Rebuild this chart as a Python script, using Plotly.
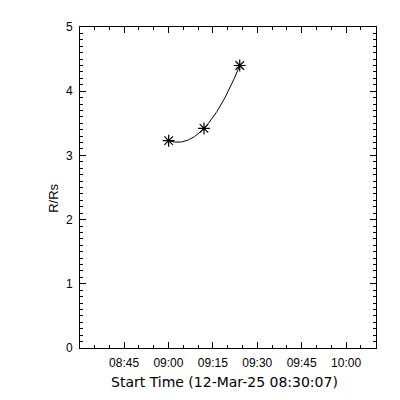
import numpy as np
import pandas as pd
import plotly.graph_objects as go

# Data
times = ["2025-03-12 09:00:04", "2025-03-12 09:12:00", "2025-03-12 09:24:05"]
r_rs = [3.23, 3.42, 4.40]
x_range = ["2025-03-12 08:30:07", "2025-03-12 10:10:07"]
y_range = [0, 5]
x_title = "Start Time (12-Mar-25 08:30:07)"
y_title = "R/Rs"

t = pd.to_datetime(times)
t0 = pd.Timestamp(x_range[0])
sec = np.array([(ti - t0).total_seconds() for ti in t])
# quadratic height-time fit, as in the original plot
coef = np.polyfit(sec, np.array(r_rs), 2)
fit_sec = np.linspace(sec[0], sec[-1], 200)
fit_t = [t0 + pd.Timedelta(seconds=float(s)) for s in fit_sec]
fit_r = np.polyval(coef, fit_sec)

FONT = "Liberation Sans"

fig = go.Figure()
fig.add_trace(go.Scatter(x=fit_t, y=fit_r, mode="lines",
                         line=dict(color="black", width=1), hoverinfo="skip"))
fig.add_trace(go.Scatter(x=t, y=r_rs, mode="markers",
                         marker=dict(symbol="asterisk-open", size=10,
                                     line=dict(color="black", width=1.2),
                                     color="black")))

fig.update_layout(
    width=400, height=400,
    margin=dict(l=72, r=32, t=16, b=60),
    paper_bgcolor="white", plot_bgcolor="white",
    showlegend=False,
    font=dict(family=FONT, size=12, color="black"),
    xaxis=dict(type="date", range=x_range, dtick=15 * 60 * 1000,
               tickformat="%H:%M", ticks="inside", ticklen=6, tickwidth=1,
               tickcolor="black", showline=True, linecolor="black", linewidth=1,
               mirror="allticks", showgrid=False, zeroline=False,
               minor=dict(dtick=5 * 60 * 1000, ticks="inside", ticklen=3,
                          tickcolor="black", showgrid=False),
               ticklabelstandoff=4),
    yaxis=dict(range=y_range, dtick=1, ticks="inside", ticklen=6, tickwidth=1,
               tickcolor="black", showline=True, linecolor="black", linewidth=1,
               mirror="allticks", showgrid=False, zeroline=False,
               minor=dict(dtick=0.1, ticks="inside", ticklen=3,
                          tickcolor="black", showgrid=False),
               ticklabelstandoff=4),
    annotations=[
        dict(text=x_title, xref="paper", yref="paper", x=0.489, y=-0.105,
             xanchor="center", yanchor="middle", showarrow=False,
             font=dict(family="DejaVu Sans", size=14, color="black")),
        dict(text=y_title, xref="paper", yref="paper", x=-0.09, y=0.466,
             xanchor="center", yanchor="middle", showarrow=False, textangle=-90,
             font=dict(family=FONT, size=13, color="black")),
    ],
)

fig.write_html("out.html")
